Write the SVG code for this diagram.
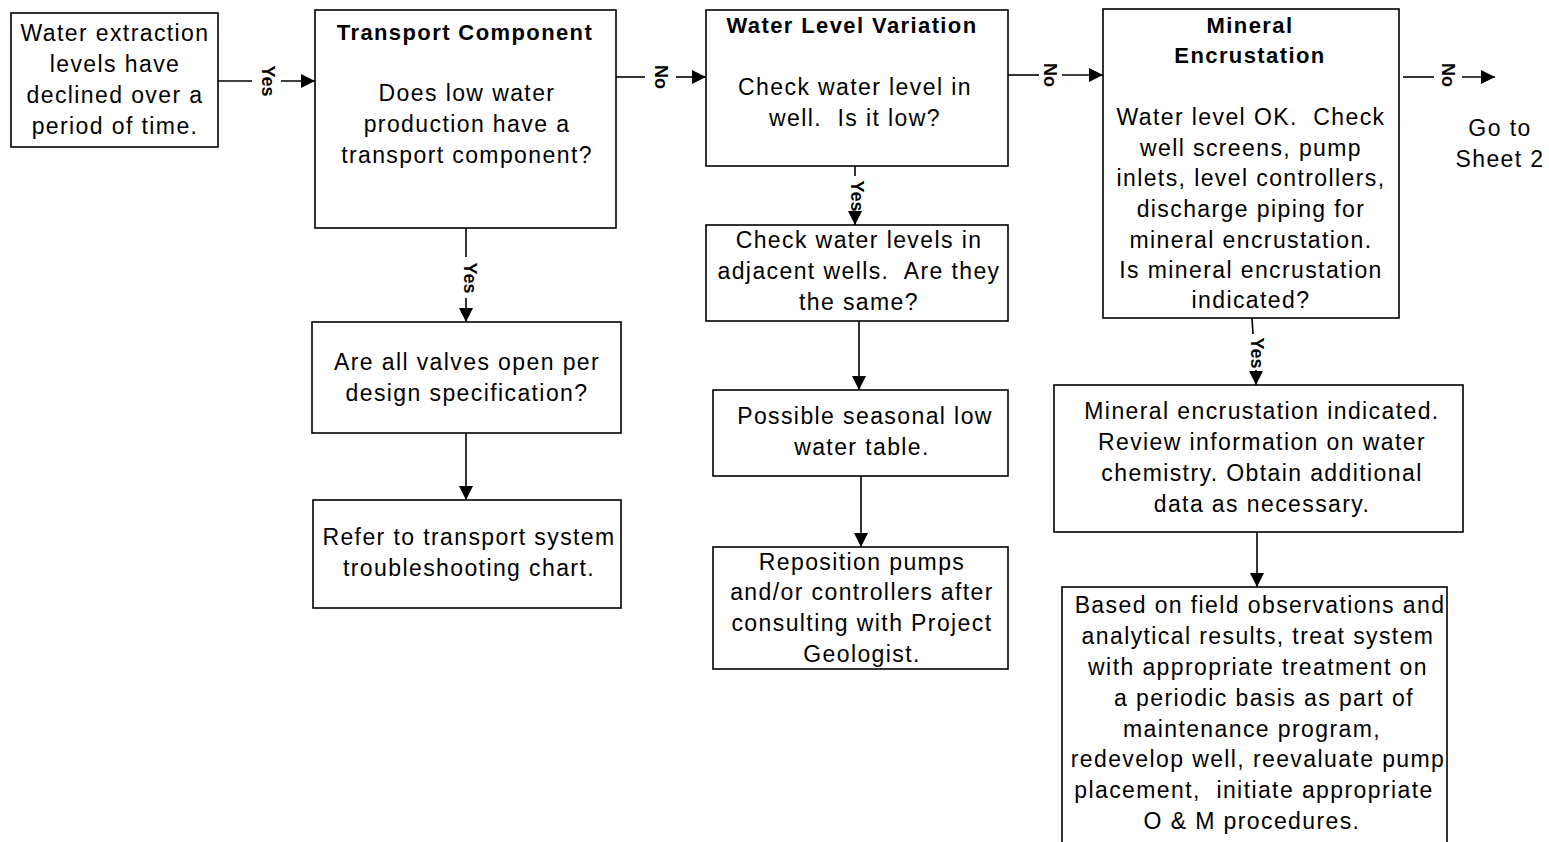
<svg xmlns="http://www.w3.org/2000/svg" width="1549" height="842" viewBox="0 0 1549 842">
<style>
.box{fill:#fff;stroke:#000;stroke-width:1.6}
.t{font-family:"Liberation Sans",Arial,sans-serif;font-size:23px;letter-spacing:1.4px;text-anchor:middle;fill:#000}
.h{font-weight:bold;font-size:22px}
.lbl{font-family:"Liberation Sans",Arial,sans-serif;font-size:18px;font-weight:bold;text-anchor:middle;dominant-baseline:central;fill:#000}
.c{stroke:#000;stroke-width:1.6;fill:none}
.a{marker-end:url(#arr)}
</style>
<defs>
<marker id="arr" viewBox="0 0 14 14" refX="14" refY="7" markerWidth="14" markerHeight="14" markerUnits="userSpaceOnUse" orient="auto">
<path d="M0,0 L14,7 L0,14 Z" fill="#000"/>
</marker>
</defs>
<rect width="1549" height="842" fill="#fff"/>
<g id="connectors">
<line class="c" x1="218" y1="81" x2="252" y2="81"/>
<line class="c a" x1="281" y1="81" x2="315" y2="81"/>
<text class="lbl" transform="translate(268,81) rotate(90)">Yes</text>
<line class="c" x1="616" y1="77" x2="645" y2="77"/>
<line class="c a" x1="676" y1="77" x2="706" y2="77"/>
<text class="lbl" transform="translate(661,77) rotate(90)">No</text>
<line class="c" x1="1008" y1="75" x2="1039" y2="75"/>
<line class="c a" x1="1062" y1="75" x2="1103" y2="75"/>
<text class="lbl" transform="translate(1050,75) rotate(90)">No</text>
<line class="c" x1="1403" y1="77" x2="1434" y2="77"/>
<line class="c a" x1="1462" y1="77" x2="1495" y2="77"/>
<text class="lbl" transform="translate(1448,75) rotate(90)">No</text>
<line class="c" x1="466" y1="228" x2="466" y2="257"/>
<line class="c a" x1="466" y1="298" x2="466" y2="322"/>
<text class="lbl" transform="translate(470,278) rotate(90)">Yes</text>
<line class="c a" x1="466" y1="433" x2="466" y2="500"/>
<line class="c" x1="855" y1="166" x2="855" y2="176"/>
<line class="c a" x1="855" y1="213" x2="855" y2="225"/>
<text class="lbl" transform="translate(857,196) rotate(90)">Yes</text>
<line class="c a" x1="859" y1="321" x2="859" y2="390"/>
<line class="c a" x1="861" y1="476" x2="861" y2="547"/>
<line class="c" x1="1252" y1="318" x2="1253" y2="334"/>
<line class="c a" x1="1256" y1="370" x2="1256" y2="385"/>
<text class="lbl" transform="translate(1257,353) rotate(90)">Yes</text>
<line class="c a" x1="1257" y1="532" x2="1257" y2="587"/>
</g>
<g id="n1">
<rect class="box" x="11" y="13" width="207" height="134"/>
<text class="t" x="115" y="41">Water extraction</text>
<text class="t" x="115" y="72">levels have</text>
<text class="t" x="115" y="103">declined over a</text>
<text class="t" x="115" y="134">period of time.</text>
</g>
<g id="n2">
<rect class="box" x="315" y="10" width="301" height="218"/>
<text class="t h" x="465" y="40">Transport Component</text>
<text class="t" x="467" y="101">Does low water</text>
<text class="t" x="467" y="132">production have a</text>
<text class="t" x="467" y="163">transport component?</text>
</g>
<g id="n3">
<rect class="box" x="706" y="10" width="302" height="156"/>
<text class="t h" x="852" y="33">Water Level Variation</text>
<text class="t" x="855" y="95">Check water level in</text>
<text class="t" x="855" y="126">well.&#160; Is it low?</text>
</g>
<g id="n4">
<rect class="box" x="1103" y="9" width="296" height="309"/>
<text class="t h" x="1250" y="33">Mineral</text>
<text class="t h" x="1250" y="63">Encrustation</text>
<text class="t" x="1251" y="125">Water level OK.&#160; Check</text>
<text class="t" x="1251" y="156">well screens, pump</text>
<text class="t" x="1251" y="186">inlets, level controllers,</text>
<text class="t" x="1251" y="217">discharge piping for</text>
<text class="t" x="1251" y="248">mineral encrustation.</text>
<text class="t" x="1251" y="278">Is mineral encrustation</text>
<text class="t" x="1251" y="308">indicated?</text>
</g>
<g id="n5">
<text class="t" x="1500" y="136">Go to</text>
<text class="t" x="1500" y="167">Sheet 2</text>
</g>
<g id="n6">
<rect class="box" x="312" y="322" width="309" height="111"/>
<text class="t" x="467" y="370">Are all valves open per</text>
<text class="t" x="467" y="401">design specification?</text>
</g>
<g id="n7">
<rect class="box" x="313" y="500" width="308" height="108"/>
<text class="t" x="469" y="545">Refer to transport system</text>
<text class="t" x="469" y="576">troubleshooting chart.</text>
</g>
<g id="n8">
<rect class="box" x="706" y="225" width="302" height="96"/>
<text class="t" x="859" y="248">Check water levels in</text>
<text class="t" x="859" y="279">adjacent wells.&#160; Are they</text>
<text class="t" x="859" y="310">the same?</text>
</g>
<g id="n9">
<rect class="box" x="713" y="390" width="295" height="86"/>
<text class="t" x="865" y="424">Possible seasonal low</text>
<text class="t" x="862" y="455">water table.</text>
</g>
<g id="n10">
<rect class="box" x="713" y="547" width="295" height="122"/>
<text class="t" x="862" y="570">Reposition pumps</text>
<text class="t" x="862" y="600">and/or controllers after</text>
<text class="t" x="862" y="631">consulting with Project</text>
<text class="t" x="862" y="662">Geologist.</text>
</g>
<g id="n11">
<rect class="box" x="1054" y="385" width="409" height="147"/>
<text class="t" x="1262" y="419">Mineral encrustation indicated.</text>
<text class="t" x="1262" y="450">Review information on water</text>
<text class="t" x="1262" y="481">chemistry. Obtain additional</text>
<text class="t" x="1262" y="512">data as necessary.</text>
</g>
<g id="n12">
<rect class="box" x="1062" y="587" width="385" height="280"/>
<text class="t" x="1260" y="613">Based on field observations and</text>
<text class="t" x="1258" y="644">analytical results, treat system</text>
<text class="t" x="1258" y="675">with appropriate treatment on</text>
<text class="t" x="1264" y="706">a periodic basis as part of</text>
<text class="t" x="1252" y="737">maintenance program,</text>
<text class="t" x="1258" y="767">redevelop well, reevaluate pump</text>
<text class="t" x="1254" y="798">placement,&#160; initiate appropriate</text>
<text class="t" x="1252" y="829">O &amp; M procedures.</text>
</g>
</svg>
